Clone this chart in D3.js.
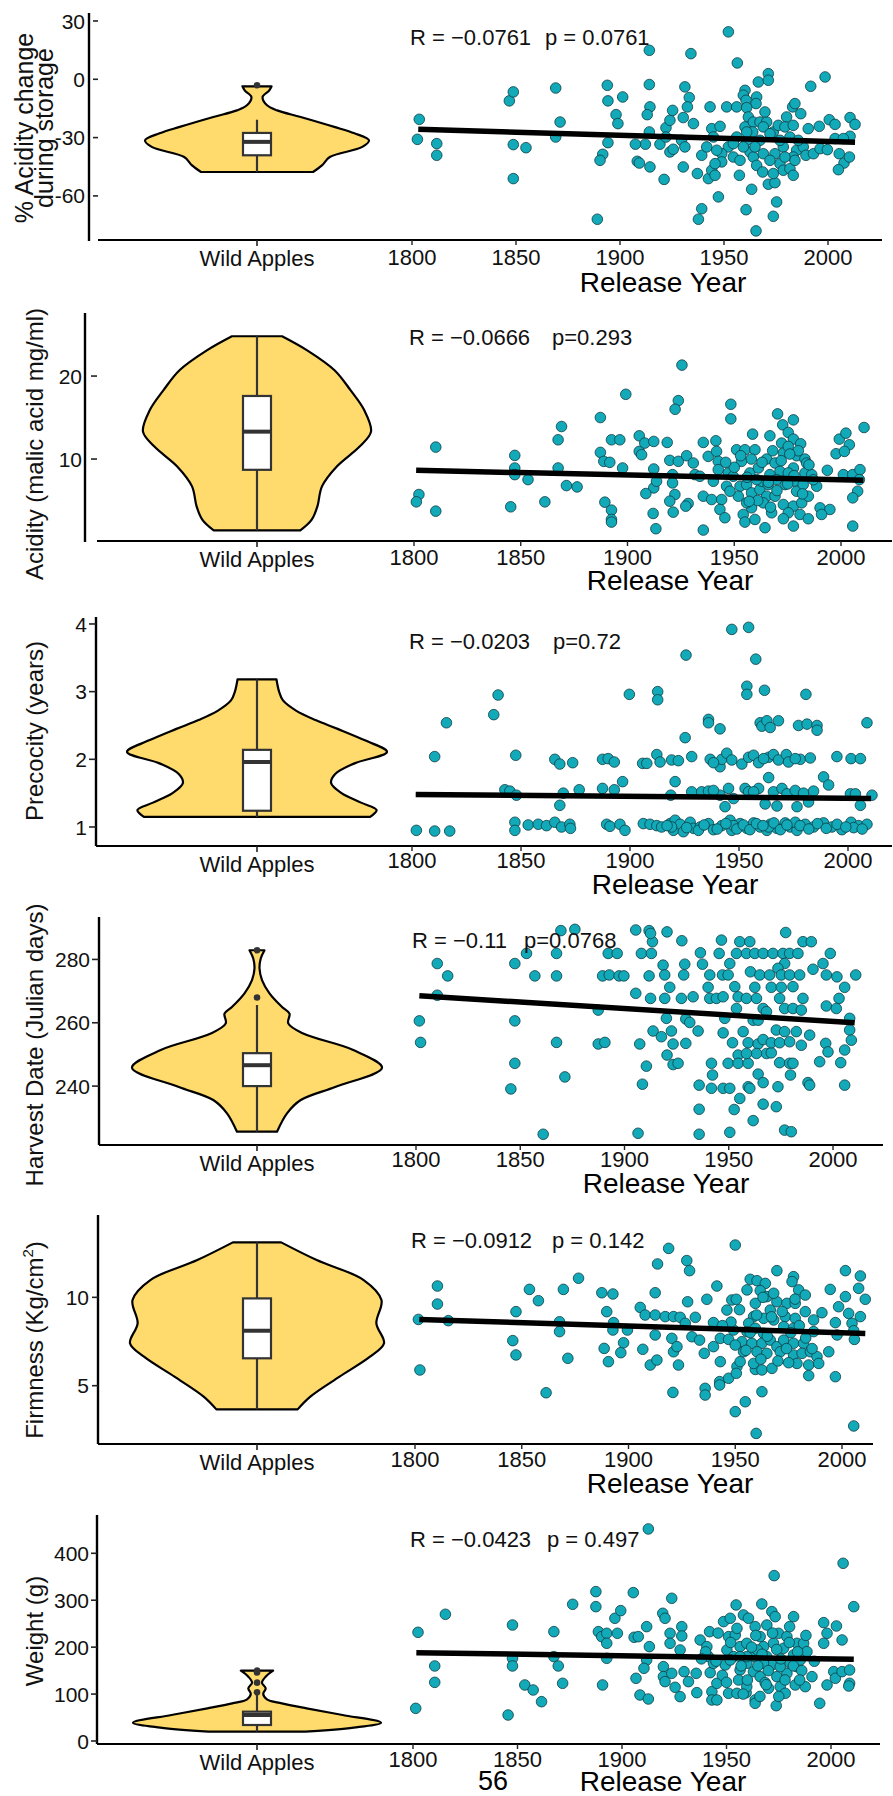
<!DOCTYPE html>
<html><head><meta charset="utf-8">
<script src="https://cdn.jsdelivr.net/npm/d3@7"></script>
<style>
html,body{margin:0;padding:0;background:#fff;}
svg{display:block;font-family:"Liberation Sans",Arial,Helvetica,sans-serif;}
</style></head><body>
<svg id="chart" width="893" height="1796"></svg>
<script>
// ---------------- DATA ----------------
const category = ["Wild Apples"];
const yearTicks = [1800, 1850, 1900, 1950, 2000];
const xTitle = "Release Year";

// Panel 1: % acidity change during storage
const yTicks1 = [-60, -30, 0, 30];
const p1Year = [1803.5,1802.6,1811.9,1811.9,1846.8,1848.7,1848.7,1854.8,1848.7,1869.1,1871.2,1869.1,1893.9,1894.2,1901.3,1898.1,1899.0,1894.2,1891.7,1890.4,1889.1,1914.1,1914.1,1914.4,1913.1,1914.1,1912.2,1907.4,1908.3,1909.3,1914.4,1921.2,1919.2,1922.1,1924.0,1925.3,1922.1,1924.0,1925.6,1934.1,1931.2,1933.3,1932.4,1930.4,1935.3,1929.6,1931.2,1930.4,1937.2,1943.3,1939.3,1941.7,1944.1,1944.9,1948.1,1942.5,1944.1,1945.7,1947.3,1939.3,1937.7,1952.1,1956.4,1951.3,1956.1,1952.1,1956.1,1954.5,1948.9,1948.9,1945.7,1957.7,1957.4,1960.6,1963.3,1965.4,1960.1,1959.3,1960.6,1965.7,1965.4,1960.9,1961.7,1960.1,1964.1,1967.3,1963.8,1970.5,1969.7,1966.5,1971.3,1971.3,1960.9,1967.3,1962.5,1964.1,1965.7,1968.6,1971.3,1974.5,1975.3,1973.7,1973.7,1973.7,1976.1,1974.5,1978.5,1976.9,1978.5,1981.7,1983.3,1980.1,1983.0,1984.1,1986.9,1979.3,1983.3,1981.7,1984.9,1983.3,1984.1,1991.7,1998.6,1990.5,1995.8,2000.6,2003.4,1988.1,1989.4,1993.0,1996.2,1999.7,2003.4,2005.4,2007.7,2005.0,2010.3,2010.6,2013.0,2010.6,2007.4,1968.9,1972.1,1976.9,1964.9,1959.3,1954.5,1946.5,1968.9,1972.1,1979.3,1985.7,1960.9];
const p1Val = [-20.6,-30.9,-33.1,-39.1,-11.1,-6.5,-33.6,-35.2,-51.1,-4.5,-22.0,-29.7,-3.1,-11.1,-9.1,-18.2,-22.8,-32.6,-38.6,-41.7,-72.0,14.9,-2.7,-14.2,-18.2,-27.1,-33.4,-33.4,-42.2,-43.1,-45.1,-51.5,-33.4,-24.9,-21.1,-16.0,-29.7,-37.4,-36.0,13.2,-3.9,-9.4,-14.2,-19.7,-22.8,-31.4,-34.8,-45.1,-48.5,-14.2,-39.1,-34.8,-25.4,-29.7,-24.2,-51.1,-46.8,-49.4,-60.5,-66.6,-72.0,24.4,8.4,-14.2,-14.2,-34.8,-29.7,-40.0,-38.3,-42.5,-43.4,-41.7,-49.4,-67.1,-56.6,-78.0,-5.7,-8.2,-10.8,-9.1,-12.5,-14.6,-19.4,-24.5,-22.0,-22.0,-27.1,-22.0,-16.8,-1.4,2.9,-0.5,-31.4,-31.4,-37.4,-40.0,-44.3,-47.7,-54.0,-53.2,-63.1,-70.5,-48.5,-27.1,-23.7,-38.3,-34.8,-43.4,-46.8,-46.0,-49.4,-19.4,-14.2,-12.5,-17.7,-24.5,-23.7,-29.7,-36.5,-40.0,-41.7,-3.6,1.2,-25.4,-24.2,-20.8,-23.2,-34.8,-39.1,-38.3,-35.7,-36.2,-30.5,-38.3,-43.1,-46.5,-40.0,-19.7,-23.2,-29.3,-30.5,-24.5,-28.0,-31.4,-34.8,-34.8,-33.1,-36.5,-38.3,-41.7,-40.0,-31.4,-27.1];
const v1Lev = [-3.6,-5.7,-9.1,-13.4,-16.0,-19.4,-24.5,-27.8,-31.4,-34.8,-40.0,-44.3,-47.7];
const v1Den = [0.13,0.11,0.05,0.09,0.18,0.39,0.69,0.87,1,0.94,0.65,0.58,0.50];
const box1 = [-47.7,-39.1,-32.2,-27.6,-20.8];
const out1 = [-3.1];
const fit1Year = [1803, 2013], fit1Val = [-25.7, -32.4];
const stats1 = ["R = \u22120.0761", "p = 0.0761"];

// Panel 2: acidity
const yTicks2 = [10, 20];
const p2Year = [1802.3,1801.1,1810.2,1810.2,1847.2,1847.2,1847.2,1853.4,1845.3,1861.3,1869.1,1867.5,1867.5,1871.4,1876.4,1887.3,1887.3,1888.9,1891.7,1892.5,1896.4,1897.7,1889.4,1892.5,1892.5,1892.5,1899.2,1905.5,1905.5,1908.1,1906.6,1912.3,1912.3,1912.3,1913.6,1908.6,1912.0,1913.3,1925.5,1923.8,1922.3,1918.6,1919.8,1923.8,1921.1,1921.1,1922.2,1919.8,1921.4,1928.4,1927.3,1927.7,1930.8,1931.6,1935.5,1935.5,1941.4,1937.8,1941.7,1942.5,1942.5,1940.2,1935.5,1939.4,1944.1,1943.3,1945.6,1947.2,1946.4,1933.9,1948.4,1948.4,1958.6,1966.7,1951.1,1955.0,1959.7,1953.4,1957.3,1961.3,1952.7,1955.8,1951.9,1958.1,1962.0,1965.2,1954.2,1955.0,1959.7,1964.4,1958.1,1963.6,1962.8,1949.5,1970.3,1972.7,1977.7,1975.3,1977.7,1981.1,1972.2,1973.0,1975.3,1979.2,1983.1,1983.9,1977.7,1965.2,1969.1,1971.4,1966.7,1973.8,1978.4,1983.1,1986.3,1988.6,1979.2,1969.1,1973.0,1977.7,1981.6,1984.7,1975.3,1980.8,1984.7,1973.0,1977.7,1967.5,1990.2,1994.8,1990.9,1993.6,1997.7,1999.2,2002.3,2003.9,2001.6,2001.1,2005.5,2008.9,2008.6,2007.8,2005.5,2005.5,2010.8,1969.8,1960.5,1982.3,1975.3,1955.8,1948.0,1965.9,
1950,1953,1956,1958,1961,1963,1966,1968,1970,1972,1975,1978,1980,1982,1985,1987,1957,1967,1976,1946];
const p2Val = [5.72,4.84,11.44,3.72,10.44,8.92,8.12,7.52,4.24,4.84,13.92,12.32,8.92,6.8,6.64,15.0,10.8,9.72,9.6,12.32,12.32,8.92,4.8,3.84,2.72,2.4,17.8,12.8,10.92,11.92,10.52,12.12,8.8,6.52,7.32,5.84,3.44,1.6,21.32,17.04,16.0,12.0,9.84,9.72,8.12,7.12,5.72,4.92,3.6,4.64,4.32,10.4,9.52,8.12,1.44,12.0,12.2,10.32,10.92,9.72,8.72,7.32,5.52,5.12,5.12,3.92,2.92,8.32,6.72,7.92,16.6,14.84,13.0,12.8,11.12,11.12,11.12,9.72,8.32,8.92,6.72,6.92,5.52,5.92,6.32,5.52,3.32,2.4,2.72,1.72,4.12,4.72,7.32,7.92,15.44,14.12,14.72,13.2,12.4,11.84,11.92,10.72,11.52,10.4,10.0,9.52,8.92,10.0,9.52,8.52,8.12,6.92,7.32,8.32,8.12,6.72,6.12,5.52,4.52,4.32,4.72,5.52,3.52,3.32,2.8,2.8,1.92,3.52,4.12,3.92,3.32,8.64,10.64,12.4,13.12,11.72,10.92,8.12,8.12,8.72,7.52,6.12,5.32,1.92,13.8,7.52,7.52,6.92,8.32,4.72,6.12,6.92,
9.0,10.4,7.8,10.0,5.0,9.6,7.2,11.0,6.2,9.8,7.0,8.0,11.0,5.8,9.3,7.5,4.9,4.2,10.6,9.6];
const v2Lev = [24.8,23.1,20.7,18.3,15.9,13.3,11.5,9.1,6.7,4.3,2.7,1.4];
const v2Den = [0.22,0.44,0.68,0.82,0.94,1,0.90,0.70,0.57,0.53,0.48,0.38];
const box2 = [1.4,8.7,13.3,17.6,24.8];
const out2 = [];
const fit2Year = [1801, 2010.5], fit2Val = [8.64, 7.44];
const stats2 = ["R = \u22120.0666", "p=0.293"];

// Panel 3: precocity
const yTicks3 = [1, 2, 3, 4];
const p3Year = [1802.0,1810.4,1817.3,1847.2,1847.2,1853.3,1857.9,1861.7,1865.5,1868.6,1872.4,1872.7,1889.3,1890.8,1895.4,1897.7,1906.1,1909.2,1912.3,1914.5,1918.4,1920.7,1919.9,1923.0,1924.5,1927.6,1929.1,1932.2,1936.0,1938.3,1942.1,1945.9,1946.7,1950.5,1953.6,1956.7,1959.7,1962.8,1964.3,1967.4,1971.2,1973.5,1976.6,1980.4,1984.2,1988.8,1992.6,1997.2,2001.4,2004.9,2008.7,2002.6,1975.8,1963.6,1947.5,1931.4,1919.1,
1917.0,1926.0,1934.0,1940.0,1944.0,1949.0,1952.0,1955.0,1958.0,1961.0,1966.0,1969.0,1972.0,1978.0,1982.0,1986.0,1990.0,1995.0,1999.0,2006.5,
1842.6,1844.9,1847.9,1869.4,1876.7,1867.8,1887.4,1892.8,1896.6,1918.7,1920.7,1928.3,1932.9,1936.0,1941.3,1943.6,1945.2,1947.5,1952.8,1954.4,1959.0,1962.0,1963.6,1965.8,1967.4,1969.7,1972.0,1975.8,1976.6,1979.6,1981.9,1984.2,1988.8,1991.1,2001.1,2003.4,2005.7,2011.0,1938.3,1956.7,
1810.4,1847.6,1865.5,1867.8,1873.7,1887.4,1890.0,1892.8,1905.8,1907.7,1912.3,1913.8,1919.1,1922.2,1928.3,1936.8,1941.3,1942.1,1944.4,1946.7,1951.3,1954.4,1956.7,1959.0,1963.6,1965.8,1968.1,1971.7,1972.7,1978.1,1982.7,1994.9,2001.4,2005.7,1938.3,1961.3,1975.8,
1815.8,1936.0,1936.0,1941.3,1959.7,1960.5,1962.8,1964.3,1968.1,1977.3,1981.2,1985.8,1985.8,2008.7,1925.3,
1837.5,1839.5,1899.7,1912.7,1912.7,1953.6,1953.6,1961.7,1980.7,
1925.7,1946.7,1954.4,1957.7];
const p3Val = [0.95,0.94,0.94,1.07,0.95,1.03,1.04,1.02,1.07,1.0,1.04,0.98,1.04,1.01,1.04,0.95,1.05,1.04,1.02,1.0,1.05,1.10,0.95,1.04,0.93,1.07,0.98,1.0,1.05,0.96,1.02,1.10,0.95,1.05,0.98,1.06,1.0,0.95,1.04,0.98,1.06,1.0,0.95,1.04,1.0,1.06,1.0,0.96,1.07,1.02,1.04,0.99,1.07,1.0,1.02,0.95,1.0,
1.02,0.99,1.03,0.97,1.05,0.97,1.03,0.96,1.05,1.02,1.06,0.96,1.03,1.02,0.97,1.05,0.98,1.04,1.0,0.97,
1.55,1.53,1.47,1.50,1.55,1.32,1.57,1.55,1.67,1.47,1.67,1.52,1.52,1.53,1.47,1.30,1.57,1.42,1.57,1.52,1.57,1.34,1.73,1.52,1.31,1.57,1.49,1.54,1.30,1.50,1.37,1.53,1.74,1.62,1.49,1.49,1.32,1.47,1.54,1.52,
2.04,2.06,2.0,1.93,1.95,2.0,2.01,1.96,1.94,1.94,2.07,1.96,1.99,1.98,2.04,2.0,1.89,2.0,2.09,1.99,1.93,2.03,2.06,1.95,2.03,2.07,1.99,2.07,1.96,2.0,2.02,2.04,2.01,2.01,1.95,2.01,2.01,
2.54,2.59,2.54,2.45,2.54,2.49,2.57,2.47,2.57,2.50,2.52,2.50,2.43,2.54,2.32,
2.66,2.95,2.96,3.0,2.88,3.08,2.96,3.02,2.96,
3.54,3.92,3.95,3.48];
const v3Lev = [3.18,3.0,2.87,2.72,2.58,2.45,2.28,2.11,1.94,1.78,1.65,1.5,1.36,1.25,1.15];
const v3Den = [0.15,0.17,0.20,0.30,0.45,0.62,0.83,1,0.75,0.60,0.57,0.65,0.80,0.92,0.87];
const box3 = [1.15,1.24,1.96,2.14,3.18];
const out3 = [];
const fit3Year = [1801.7, 2010.6], fit3Val = [1.48, 1.42];
const stats3 = ["R = \u22120.0203", "p=0.72"];

// Panel 4: harvest date
const yTicks4 = [240, 260, 280];
const p4Year = [1801.6,1802.2,1810.2,1810.2,1815.2,1847.4,1847.4,1847.4,1845.5,1853.0,1857.0,1861.0,1867.4,1867.4,1867.4,1871.4,1869.5,1876.2,1887.4,1887.4,1890.6,1889.5,1892.7,1892.2,1896.5,1897.4,1899.7,1905.4,1905.4,1907.3,1910.5,1908.6,1906.5,1911.8,1913.4,1912.5,1908.1,1912.9,1911.8,1912.5,1920.4,1927.5,1918.5,1919.3,1921.7,1919.3,1920.1,1913.7,1917.7,1922.5,1923.3,1920.4,1923.3,1925.7,1929.4,1929.4,1931.3,1935.3,1928.9,1928.4,1927.3,1932.9,1935.8,1935.8,1935.8,1936.4,1937.4,1940.9,1940.1,1940.9,1944.1,1947.3,1945.4,1946.5,1947.0,1950.5,1949.7,1953.7,1955.3,1960.1,1958.5,1962.5,1952.9,1954.5,1958.5,1948.1,1947.3,1953.7,1951.8,1954.5,1949.7,1954.5,1959.3,1941.7,1942.2,1941.7,1947.3,1950.5,1959.3,1955.3,1952.6,1961.7,1950.5,1960.4,1964.9,1962.5,1963.3,1966.5,1968.1,1961.7,1964.1,1956.9,1959.3,1964.1,1966.5,1968.1,1963.3,1970.4,1958.5,1964.1,1966.5,1960.1,1966.5,1972.8,1973.6,1966.5,1971.2,1976.0,1979.2,1983.2,1976.8,1973.6,1969.6,1975.2,1979.2,1984.0,1970.4,1975.2,1980.8,1974.4,1976.8,1980.8,1984.8,1972.8,1976.8,1982.4,1970.4,1974.4,1979.2,1984.8,1988.8,1974.4,1979.2,1980.8,1979.6,1988.0,1976.8,1980.0,1977.3,1985.6,1989.6,1985.6,1995.2,1990.4,1998.7,1996.8,2001.9,2005.6,2002.9,1996.8,2001.6,2008.0,2008.0,2008.8,2010.9,1996.5,1997.6,1993.6,2003.7,2005.6,2005.6,1988.8];
const p4Val = [260.6,253.8,278.7,268.7,274.8,278.7,260.6,247.2,239.1,281.9,274.8,224.8,281.9,274.8,253.8,242.9,289.1,289.5,264.0,253.3,253.8,274.8,275.1,281.9,281.9,274.8,274.8,289.3,269.3,253.3,246.3,240.6,225.1,289.1,285.6,288.2,281.9,281.9,274.8,267.7,288.7,285.9,278.2,275.1,271.2,267.7,261.4,257.4,255.6,257.4,253.3,249.8,246.8,247.2,253.5,261.2,260.1,257.4,278.5,275.1,267.7,268.2,232.7,224.8,240.3,282.1,278.5,275.1,271.2,267.7,267.7,268.2,281.9,286.1,275.1,278.7,275.1,281.9,285.6,285.6,281.9,281.9,271.4,268.2,267.7,261.4,256.8,264.5,253.7,249.8,247.2,247.2,247.2,247.2,243.5,239.3,239.3,239.3,239.8,236.1,232.6,229.1,225.4,276.1,275.1,271.2,267.7,264.5,263.5,260.8,260.8,257.2,253.7,253.3,254.7,250.3,250.3,250.5,250.3,243.8,241.1,239.3,234.3,233.5,239.8,281.9,281.9,281.9,281.9,281.9,278.7,277.2,275.1,275.1,275.1,275.1,271.2,271.2,271.4,267.7,264.5,264.5,264.0,257.7,257.2,257.2,253.7,253.7,254.0,252.9,256.1,247.4,247.2,247.2,243.5,241.1,226.1,225.6,288.5,285.6,285.6,267.7,278.7,276.9,281.9,275.1,274.5,271.2,267.7,265.3,264.5,261.4,257.7,254.5,275.1,253.5,250.8,247.7,247.4,251.4,240.3,240.3];
const v4Lev = [282.9,280.3,277.2,273.5,269.3,265.0,262.9,259.8,256.6,251.4,245.8,239.8,235.6,231.4,225.6];
const v4Den = [0.06,0.03,0.02,0.04,0.10,0.20,0.26,0.25,0.37,0.77,1,0.63,0.35,0.24,0.16];
const box4 = [225.6,240.0,246.6,250.4,265.6];
const out4 = [268, 282.9];
const fit4Year = [1801.6, 2010.4], fit4Val = [268.5, 260.0];
const stats4 = ["R = \u22120.11", "p=0.0768"];

// Panel 5: firmness
const yTicks5 = [5, 10];
const p5Year = [1801.6,1802.3,1810.5,1810.5,1815.6,1845.8,1847.3,1847.3,1853.6,1857.8,1861.4,1867.7,1867.7,1869.5,1871.6,1876.6,1887.5,1892.7,1889.8,1893.0,1892.7,1888.6,1890.6,1896.4,1897.7,1899.5,1905.5,1907.8,1906.7,1912.5,1913.6,1912.5,1912.5,1910.2,1913.3,1920.3,1921.1,1922.7,1920.8,1923.4,1918.8,1917.2,1921.1,1924.2,1927.3,1928.6,1927.7,1926.6,1929.7,1931.3,1933.3,1935.5,1936.7,1941.4,1935.9,1935.9,1939.8,1939.8,1943.0,1943.0,1942.7,1942.7,1946.9,1946.9,1948.4,1950.5,1950.0,1946.1,1949.2,1950.8,1950.5,1954.7,1950.0,1952.3,1957.0,1960.2,1964.1,1955.5,1959.4,1961.7,1964.8,1966.4,1958.6,1956.3,1963.3,1968.0,1955.5,1959.4,1963.3,1953.1,1957.8,1962.5,1966.4,1969.5,1953.9,1960.2,1964.8,1959.4,1962.5,1967.2,1962.5,1959.8,1958.6,1969.5,1977.3,1976.6,1979.7,1982.8,1969.5,1974.2,1978.1,1968.0,1973.4,1978.1,1982.8,1986.7,1990.6,1972.7,1977.3,1972.7,1977.3,1982.0,1971.1,1977.3,1981.3,1985.2,1978.9,1984.4,1988.3,1993.8,1984.4,1989.1,1986.7,1994.5,2001.6,2001.6,2008.6,2007.8,2010.9,1998.4,2003.1,2008.6,1996.9,2004.7,2005.5,1997.7,2005.8,1996.9,2005.5,
1948,1952,1955,1957,1960,1962,1965,1967,1970,1972,1974,1976,1978,1980,1983,1986,1950,1963,1975,1944];
const p5Val = [8.75,5.89,10.64,9.62,8.68,7.55,9.19,6.74,10.45,9.81,4.60,8.62,8.06,10.45,6.55,11.08,10.26,10.19,9.19,8.57,8.15,7.11,6.36,6.87,7.43,8.15,9.43,9.0,7.06,10.26,11.89,9.0,7.87,6.17,6.45,7.68,6.92,7.21,4.62,6.17,12.77,8.91,8.91,8.87,12.08,11.51,9.75,8.53,7.77,8.87,7.58,6.83,9.89,10.64,4.85,4.47,8.57,7.21,7.68,6.36,5.23,5.04,5.42,7.62,9.85,9.89,12.96,9.28,8.15,6.08,5.70,4.09,3.53,6.36,11.02,10.94,10.79,10.42,9.66,10.38,10.04,9.28,8.91,8.53,8.81,8.72,8.06,8.25,7.96,7.49,7.40,7.40,7.58,7.21,6.92,6.92,6.83,5.92,5.89,5.98,4.66,2.30,6.26,11.51,11.17,10.89,10.42,10.13,9.75,9.66,9.66,10.23,8.91,8.81,9.19,8.72,9.13,8.34,8.25,7.58,7.40,7.40,6.92,6.74,6.83,6.92,6.26,6.17,6.64,6.92,5.57,6.26,8.06,10.45,11.51,10.04,11.21,10.51,9.89,9.47,9.09,8.91,8.57,8.53,8.11,7.87,7.62,5.51,2.72,
8.6,9.3,7.0,8.0,9.0,6.5,7.8,8.9,6.4,9.2,7.1,8.0,9.9,8.4,7.7,7.1,7.3,10.0,6.3,8.4];
const v5Lev = [13.11,12.11,10.98,9.85,8.53,7.40,6.64,5.51,4.38,3.66];
const v5Den = [0.19,0.47,0.84,0.98,0.94,1,0.89,0.65,0.42,0.32];
const box5 = [3.66,6.55,8.11,9.94,13.11];
const out5 = [];
const fit5Year = [1802.0, 2010.9], fit5Val = [8.75, 7.96];
const stats5 = ["R = \u22120.0912", "p = 0.142"];

// Panel 6: weight
const yTicks6 = [0, 100, 200, 300, 400];
const p6Year = [1802.4,1801.3,1810.4,1810.4,1815.5,1847.6,1847.6,1847.6,1845.5,1853.5,1857.5,1861.5,1867.4,1867.4,1869.5,1871.6,1876.4,1887.5,1887.5,1888.7,1890.3,1892.7,1892.7,1892.7,1890.7,1896.6,1899.4,1897.8,1905.4,1905.8,1907.8,1911.8,1913.1,1911.8,1910.5,1906.7,1908.6,1912.6,1912.6,1919.5,1920.6,1923.8,1919.8,1919.8,1920.6,1923.0,1923.0,1923.8,1925.4,1927.8,1928.6,1928.6,1927.8,1929.7,1931.8,1935.8,1935.5,1937.4,1941.9,1940.6,1941.4,1942.2,1943.0,1943.0,1945.4,1945.4,1948.6,1951.8,1951.0,1950.2,1949.4,1951.0,1954.6,1954.2,1956.5,1953.4,1956.5,1955.8,1955.0,1959.4,1959.7,1958.1,1960.5,1963.7,1966.1,1959.7,1967.7,1962.9,1959.7,1962.9,1966.1,1968.5,1963.7,1963.7,1966.9,1971.7,1969.3,1973.3,1972.5,1969.3,1971.7,1974.1,1970.1,1973.8,1972.8,1974.9,1978.9,1982.1,1980.2,1983.7,1977.3,1982.1,1986.9,1988.5,1983.7,1978.9,1975.7,1978.1,1982.9,1987.7,1990.9,1985.3,1994.6,1996.5,1998.1,1996.5,2002.6,1998.1,2005.3,2005.8,2010.9,2001.3,2002.1,2005.3,2008.9,2008.9,2008.5,1951.8,1959.7,1967.7,1975.7,1943.8,1964.8,1980.5,1956.5,
1940,1945,1948,1952,1955,1957,1960,1962,1964,1965,1967,1970,1972,1974,1976,1978,1980,1982,1984,1986,1988,1950,1958,1966,1975,1985,1946,1938,1992,1969];
const p6Val = [231.6,69.6,159.9,125.0,270.0,247.2,176.2,159.9,55.4,119.4,108.7,83.8,233.0,179.8,159.9,122.9,291.3,318.3,286.3,233.0,222.4,229.5,208.2,176.2,119.4,261.5,277.8,229.5,316.2,221.0,222.4,243.7,201.1,172.6,154.9,133.6,98.0,89.5,451.9,272.1,261.5,304.1,158.4,137.1,126.5,229.5,208.2,144.2,114.4,94.5,243.7,223.8,194.0,147.8,126.5,103.0,144.2,215.3,233.0,201.1,179.8,145.6,105.2,87.4,87.4,122.9,254.4,261.5,222.4,194.0,162.0,101.6,289.9,225.9,201.1,179.8,151.3,130.0,101.6,103.0,115.8,268.6,261.5,243.7,222.4,208.2,201.1,179.8,165.5,147.8,137.1,124.3,87.4,80.3,292.0,275.7,247.2,265.0,208.2,179.8,162.0,137.1,112.3,75.3,352.4,229.5,222.4,265.0,243.7,208.2,197.5,183.3,208.2,190.4,158.4,144.2,115.8,101.6,119.4,115.8,137.1,172.6,80.3,252.2,229.5,208.2,245.1,119.4,215.3,378.7,286.3,147.8,133.6,147.8,151.3,122.9,117.2,172.6,179.8,165.5,158.4,165.5,194.0,165.5,179.8,
190,170,140,210,240,160,130,200,225,160,185,150,230,195,175,130,210,160,190,150,225,125,100,95,95,130,230,175,170,120];
const v6Lev = [149.9,137.1,124.3,112.3,100.2,88.8,80.3,69.6,55.4,39.1,28.4,19.9];
const v6Den = [0.13,0.07,0.04,0.07,0.05,0.08,0.20,0.40,0.69,1,0.78,0.39];
const box6 = [19.9,34.1,55.4,62.5,100];
const out6 = [104,124.3,146,149.9];
const fit6Year = [1801.6, 2010.9], fit6Val = [188.3, 174.1];
const stats6 = ["R = \u22120.0423", "p = 0.497"];

// ---------------- LAYOUT ----------------
const panels = [
  {years:p1Year, vals:p1Val, yTicks:yTicks1, lev:v1Lev, den:v1Den, box:box1, out:out1, fitY:fit1Year, fitV:fit1Val, stats:stats1,
   dom:[-83.2,34.1], top:13, bottom:241, yLineX:89, tickX0:93, tickX1:98, labelX:85, axisY:240, axisX0:98, axisX1:882, yearDy:25,
   x1800:412, x2000:828, vHalf:112, statX:[410,545], statY:45, title:["% Acidity change","during storage"], titleX:[33,53], titleY:128, titleSize:25, relX:663, relY:292},
  {years:p2Year, vals:p2Val, yTicks:yTicks2, lev:v2Lev, den:v2Den, box:box2, out:out2, fitY:fit2Year, fitV:fit2Val, stats:stats2,
   dom:[0,27.6], top:313, bottom:542, yLineX:85, tickX0:91, tickX1:97, labelX:82, axisY:541, axisX0:97, axisX1:892, yearDy:24,
   x1800:414, x2000:841, vHalf:114, statX:[409,552], statY:345, title:["Acidity (malic acid mg/ml)"], titleX:[43], titleY:444, titleSize:24, relX:670, relY:590},
  {years:p3Year, vals:p3Val, yTicks:yTicks3, lev:v3Lev, den:v3Den, box:box3, out:out3, fitY:fit3Year, fitV:fit3Val, stats:stats3,
   dom:[0.719,4.103], top:617, bottom:846, yLineX:96, tickX0:89, tickX1:96, labelX:87, axisY:846, axisX0:96, axisX1:892, yearDy:22,
   x1800:412, x2000:848, vHalf:130, statX:[409,553], statY:649, title:["Precocity (years)"], titleX:[43], titleY:731, titleSize:24, relX:675, relY:894},
  {years:p4Year, vals:p4Val, yTicks:yTicks4, lev:v4Lev, den:v4Den, box:box4, out:out4, fitY:fit4Year, fitV:fit4Val, stats:stats4,
   dom:[221.4,293.4], top:917, bottom:1145, yLineX:99, tickX0:92, tickX1:99, labelX:90, axisY:1145, axisX0:99, axisX1:883, yearDy:22,
   x1800:416, x2000:833, vHalf:125, statX:[412,524], statY:948, title:["Harvest Date (Julian days)"], titleX:[43], titleY:1045, titleSize:24, relX:666, relY:1193},
  {years:p5Year, vals:p5Val, yTicks:yTicks5, lev:v5Lev, den:v5Den, box:box5, out:out5, fitY:fit5Year, fitV:fit5Val, stats:stats5,
   dom:[1.70,14.66], top:1215, bottom:1444, yLineX:98, tickX0:92, tickX1:98, labelX:89, axisY:1444, axisX0:98, axisX1:873, yearDy:23,
   x1800:415, x2000:842, vHalf:127, statX:[411,552], statY:1248, title:["Firmness (Kg/cm","2",")"], titleX:[43], titleY:1340, titleSize:24, relX:670, relY:1493, sup:true},
  {years:p6Year, vals:p6Val, yTicks:yTicks6, lev:v6Lev, den:v6Den, box:box6, out:out6, fitY:fit6Year, fitV:fit6Val, stats:stats6,
   dom:[-6.4,481.6], top:1515, bottom:1744, yLineX:97, tickX0:91, tickX1:97, labelX:89, axisY:1744, axisX0:97, axisX1:880, yearDy:23,
   x1800:413, x2000:831, vHalf:124, statX:[410,547], statY:1547, title:["Weight (g)"], titleX:[43], titleY:1631, titleSize:24, relX:663, relY:1791}
];

const VIOLIN_FILL = "#FFDB6D";
const POINT_FILL = "#12A9B8";
const DARK = "#333333";

const svg = d3.select("#chart");
svg.append("rect").attr("width",893).attr("height",1796).attr("fill","#fff");

panels.forEach(P => {
  const g = svg.append("g");
  const y = d3.scaleLinear().domain(P.dom).range([P.bottom, P.top]);
  const xs = d3.scaleLinear().domain([1800, 2000]).range([P.x1800, P.x2000]);
  const xc = d3.scalePoint().domain(category).range([P.axisX0, 2*257 - P.axisX0]).padding(0.5);
  const cx = xc(category[0]);
  const w = d3.scaleLinear().domain([0, 1]).range([0, P.vHalf]);

  // axes lines
  g.append("line").attr("x1",P.yLineX).attr("x2",P.yLineX).attr("y1",P.top).attr("y2",P.bottom)
    .attr("stroke","#000").attr("stroke-width",2.4);
  g.append("line").attr("x1",P.axisX0).attr("x2",P.axisX1).attr("y1",P.axisY).attr("y2",P.axisY)
    .attr("stroke","#000").attr("stroke-width",2.2);

  // y ticks
  P.yTicks.forEach(t => {
    g.append("line").attr("x1",P.tickX0).attr("x2",P.tickX1).attr("y1",y(t)).attr("y2",y(t))
      .attr("stroke","#222").attr("stroke-width",1.6);
    g.append("text").attr("x",P.labelX).attr("y",y(t)).attr("dy","0.36em").attr("text-anchor","end")
      .attr("font-size",21).attr("fill","#111").text(String(t));
  });

  // x ticks: category + years
  g.append("line").attr("x1",cx).attr("x2",cx).attr("y1",P.axisY).attr("y2",P.axisY+6)
    .attr("stroke","#222").attr("stroke-width",1.6);
  g.append("text").attr("x",cx).attr("y",P.axisY+26).attr("text-anchor","middle")
    .attr("font-size",22).attr("fill","#111").text(category[0]);
  yearTicks.forEach(t => {
    g.append("line").attr("x1",xs(t)).attr("x2",xs(t)).attr("y1",P.axisY).attr("y2",P.axisY+5)
      .attr("stroke","#222").attr("stroke-width",1.4);
    g.append("text").attr("x",xs(t)).attr("y",P.axisY+P.yearDy).attr("text-anchor","middle")
      .attr("font-size",22).attr("fill","#111").text(String(t));
  });
  g.append("text").attr("x",P.relX).attr("y",P.relY).attr("text-anchor","middle")
    .attr("font-size",28).attr("fill","#000").text(xTitle);

  // y title
  if (P.sup) {
    const t = g.append("text").attr("transform",`translate(${P.titleX[0]},${P.titleY}) rotate(-90)`)
      .attr("text-anchor","middle").attr("font-size",P.titleSize).attr("fill","#111");
    t.append("tspan").text(P.title[0]);
    t.append("tspan").attr("font-size",15).attr("dy",-10).text(P.title[1]);
    t.append("tspan").attr("dy",10).text(P.title[2]);
  } else {
    P.title.forEach((s,i) => {
      g.append("text").attr("transform",`translate(${P.titleX[i]},${P.titleY}) rotate(-90)`)
        .attr("text-anchor","middle").attr("font-size",P.titleSize).attr("fill","#111").text(s);
    });
  }

  // violin
  const vdata = P.lev.map((l,i) => [l, P.den[i]]);
  const area = d3.area().curve(d3.curveCatmullRom.alpha(0.5))
    .y(d => y(d[0])).x0(d => cx - w(d[1])).x1(d => cx + w(d[1]));
  g.append("path").attr("d", area(vdata)).attr("fill",VIOLIN_FILL)
    .attr("stroke","#000").attr("stroke-width",2.2).attr("stroke-linejoin","round");

  // box
  const bh = 14, b = P.box;
  g.append("line").attr("x1",cx).attr("x2",cx).attr("y1",y(b[0])).attr("y2",y(b[4]))
    .attr("stroke",DARK).attr("stroke-width",2.2);
  g.append("rect").attr("x",cx-bh).attr("width",2*bh).attr("y",y(b[3])).attr("height",y(b[1])-y(b[3]))
    .attr("fill","#fff").attr("stroke",DARK).attr("stroke-width",2.2);
  g.append("line").attr("x1",cx-bh).attr("x2",cx+bh).attr("y1",y(b[2])).attr("y2",y(b[2]))
    .attr("stroke",DARK).attr("stroke-width",4);
  P.out.forEach(o => {
    g.append("circle").attr("cx",cx).attr("cy",y(o)).attr("r",3.3).attr("fill",DARK);
  });

  // scatter points
  const n = Math.min(P.years.length, P.vals.length);
  g.append("g").selectAll("circle").data(d3.range(n)).join("circle")
    .attr("cx", i => xs(P.years[i])).attr("cy", i => y(P.vals[i])).attr("r",5.3)
    .attr("fill",POINT_FILL).attr("stroke","#0c3d44").attr("stroke-width",0.8);

  // regression line
  const line = d3.line().x(d => xs(d[0])).y(d => y(d[1]));
  g.append("path").attr("d", line(P.fitY.map((yy,i)=>[yy, P.fitV[i]])))
    .attr("stroke","#000").attr("stroke-width",5.5).attr("fill","none");

  // stats
  g.append("text").attr("x",P.statX[0]).attr("y",P.statY).attr("font-size",22).attr("fill","#111").text(P.stats[0]);
  g.append("text").attr("x",P.statX[1]).attr("y",P.statY).attr("font-size",22).attr("fill","#111").text(P.stats[1]);
});

// page number
svg.append("text").attr("x",493).attr("y",1790).attr("text-anchor","middle").attr("font-size",27).attr("fill","#000").text("56");
</script>
</body></html>
